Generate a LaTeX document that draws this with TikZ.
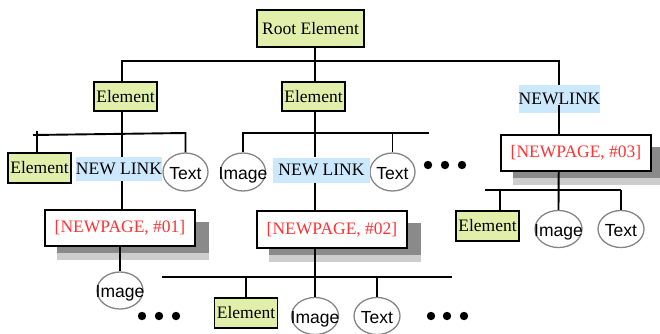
\documentclass[tikz,border=0pt]{standalone}
\usepackage{fontspec}
\setmainfont{Liberation Serif}
\newfontfamily\arialf{Liberation Sans}
\usetikzlibrary{shapes.geometric,calc}
\definecolor{elfill}{HTML}{E0EFA9}
\definecolor{linkfill}{HTML}{CCE8FC}
\definecolor{pagered}{HTML}{FF3333}
\definecolor{ovalgray}{HTML}{858585}
\definecolor{shdark}{HTML}{8A8A8A}
\definecolor{shlight}{HTML}{CDCDCD}
\newcommand\dgfont{\fontsize{17.5}{20}\selectfont}
\pgfdeclarelayer{bg}\pgfsetlayers{bg,main}
\tikzset{
  elbox/.style={draw, line width=1.9pt, fill=elfill, rectangle, minimum width=63pt, minimum height=30pt, inner sep=0pt, font=\dgfont},
  pagebox/.style={draw, fill=white, line width=1.9pt, rectangle, minimum width=150pt, minimum height=36pt, inner sep=0pt, text=pagered, font=\dgfont},
  linkbox/.style={fill=linkfill, rectangle, inner sep=0pt, minimum height=25pt, font=\dgfont},
  oval/.style={ellipse, draw=ovalgray, line width=1.3pt, minimum width=46pt, minimum height=37pt, inner sep=0pt},
  ovaltext/.style={font=\dgfont\arialf, text depth=0pt, inner sep=0pt, yshift=-1pt},
  conn/.style={line width=1.9pt, black},
  dot/.style={fill=black}
}
\begin{document}
\begin{tikzpicture}[x=1pt,y=-1pt]
\useasboundingbox (0,0) rectangle (660,333);
% column coordinates
\coordinate (c1) at (122,0);
\coordinate (c2) at (315,0);
\coordinate (c4) at (558.7,0);
\coordinate (c5) at (500,0);
\coordinate (b1) at (0,61);
\coordinate (bl) at (33,135);
\coordinate (b2) at (0,133);
\coordinate (tk) at (37,131);
\coordinate (b3r) at (428.7,133);
\coordinate (b4l) at (162,277);
\coordinate (b4r) at (452,277);
\coordinate (b5l) at (485,190);
\coordinate (b5r) at (621,190);

% nodes
\node[elbox, minimum width=107pt, minimum height=37pt] (root) at (310.5,28.5) {Root Element};
\node[elbox, minimum height=29pt] (el1) at (125.5,96.5) {Element};
\node[elbox, minimum height=29pt] (el2) at (313.5,96.5) {Element};
\node[linkbox, minimum width=81pt, minimum height=28pt] (nl3) at (559.5,99) {NEWLINK};
\node[pagebox] (np3) at (576,153) {[NEWPAGE, \#03]};

\node[elbox] (el11) at (39.5,168) {Element};
\node[oval, minimum width=45pt, minimum height=38pt, label={[ovaltext]center:Text}] (tx1) at (185.5,172) {};
\node[linkbox, minimum width=84pt, minimum height=24pt] (nl1) at (119,169) {NEW LINK};
\node[pagebox] (np1) at (120,228) {[NEWPAGE, \#01]};
\node[oval, label={[ovaltext]center:Image}] (im1) at (120,290.5) {};

\node[oval, minimum width=45pt, minimum height=38pt, label={[ovaltext]center:Image}] (im2) at (243,172) {};
\node[oval, minimum width=45pt, minimum height=38pt, label={[ovaltext]center:Text}] (tx2) at (392.5,172) {};
\node[linkbox, minimum width=97pt] (nl2) at (321.5,170) {NEW LINK};
\node[pagebox, minimum height=37pt] (np2) at (332,229.5) {[NEWPAGE, \#02]};

\node[elbox] (elb) at (246,313) {Element};
\node[oval, minimum width=47pt, label={[ovaltext]center:Image}] (imb) at (315,316) {};
\node[oval, label={[ovaltext]center:Text}] (txb) at (377,316) {};

\node[elbox] (elr) at (487.5,226) {Element};
\node[oval, minimum width=47pt, label={[ovaltext]center:Image}] (imr) at (558.5,229) {};
\node[oval, label={[ovaltext]center:Text}] (txr) at (621,229) {};

% shadows
\begin{pgfonlayer}{bg}
\foreach \n in {np1,np2,np3} {
  \fill[shdark] ([shift={(13,13)}]\n.north west) rectangle ([shift={(13,13)}]\n.south east);
  \fill[shlight] ([shift={(13,6)}]\n.south west) rectangle ([shift={(13,13)}]\n.south east);
}
\end{pgfonlayer}

% connectors
\draw[conn] (root.south -| c2) -- (el2.north -| c2);
\draw[conn] (el1.north -| c1) -- (c1 |- b1) -- (c4 |- b1) -- (nl3.north -| c4);

\draw[conn] (el1.south -| c1) -- (nl1.north -| c1);
\draw[conn] (bl) -- (tx1.north |- b2) -- (tx1.north);
\draw[conn] (tk) -- (el11.north -| tk);
\draw[conn] (nl1.south -| c1) -- (np1.north -| c1);
\draw[conn] (np1.south -| im1) -- (im1.north);

\draw[conn] (im2.north) -- (im2.north |- b3r) -- (b3r);
\draw[conn] (tx2.north |- b3r) -- (tx2.north);
\draw[conn] (el2.south -| c2) -- (nl2.north -| c2);
\draw[conn] (nl2.south -| c2) -- (np2.north -| c2);
\draw[conn] (np2.south -| c2) -- (imb.north);
\draw[conn] (b4l) -- (b4r);
\draw[conn] (elb.north |- b4l) -- (elb.north);
\draw[conn] (txb.north |- b4l) -- (txb.north);

\draw[conn] (nl3.base -| c4) -- (np3.north -| c4);
\draw[conn] (np3.south -| c4) -- (imr.north);
\draw[conn] (b5l) -- (b5r);
\draw[conn] (c5 |- b5l) -- (elr.north -| c5);
\draw[conn] (txr.north |- b5l) -- (txr.north);

% dots
\foreach \x in {142,159,176} \fill[dot] (\x,316) circle (4.2);
\foreach \x in {428,445,462} \fill[dot] (\x,165) circle (4.2);
\foreach \x in {431,447,464} \fill[dot] (\x,316) circle (4.2);
\end{tikzpicture}
\end{document}
